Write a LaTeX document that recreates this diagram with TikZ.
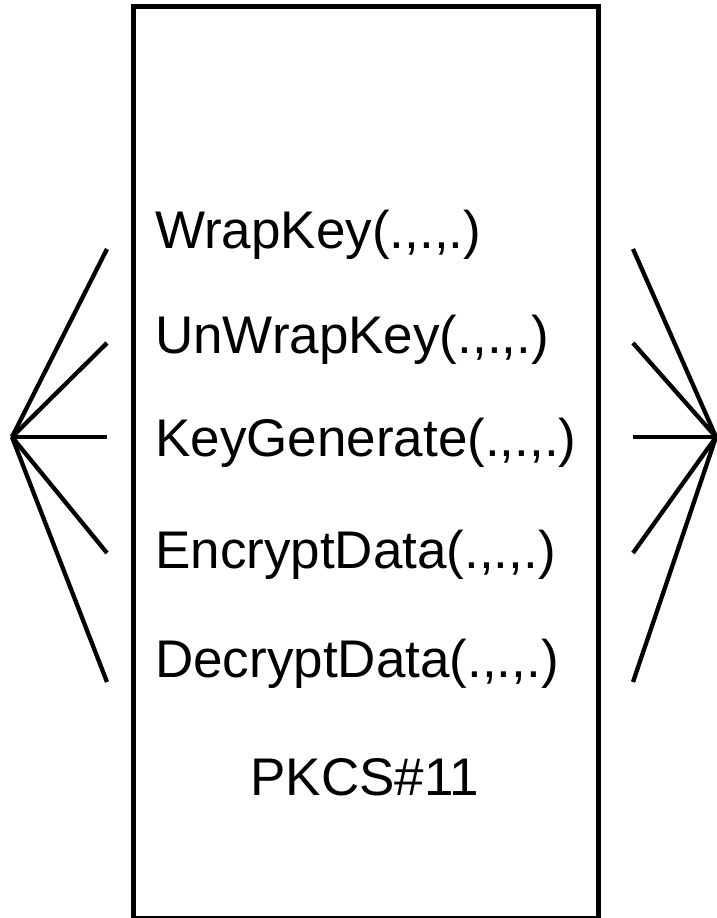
\documentclass[tikz,border=0pt]{standalone}
\usepackage{fontspec}
\setmainfont{Liberation Sans}
\begin{document}
\begin{tikzpicture}[x=1pt,y=-1pt,
  boxframe/.style={draw=black,line width=5pt},
  fanline/.style={draw=black,line width=4.3pt},
  calltext/.style={anchor=base west,inner sep=0pt,font=\fontsize{53}{60}\selectfont},
  titletext/.style={anchor=base,inner sep=0pt,font=\fontsize{53}{60}\selectfont}]
  \useasboundingbox (0,0) rectangle (716,918);

  % the PKCS#11 module
  \draw[boxframe] (133.5,6.5) rectangle (598.5,918.5);

  % exported calls
  \node[calltext] (wrap)    at (155,248) {WrapKey(.,.,.)};
  \node[calltext] (unwrap)  at (155,353) {UnWrapKey(.,.,.)};
  \node[calltext] (keygen)  at (155,456) {KeyGenerate(.,.,.)};
  \node[calltext] (encrypt) at (155,568) {EncryptData(.,.,.)};
  \node[calltext] (decrypt) at (155,677) {DecryptData(.,.,.)};
  \node[titletext] (title)  at (365,795) {PKCS\#11};

  % fan-in on the left
  \coordinate (lhub) at (12,437);
  \coordinate (l1) at (107,249);
  \coordinate (l2) at (107,343);
  \coordinate (l3) at (107,437);
  \coordinate (l4) at (107,553);
  \coordinate (l5) at (107,682);
  \foreach \i in {1,...,5} \draw[fanline] (lhub) -- (l\i);

  % fan-out on the right
  \coordinate (rhub) at (716,437);
  \coordinate (r1) at (633,249);
  \coordinate (r2) at (633,343);
  \coordinate (r3) at (633,437);
  \coordinate (r4) at (633,553);
  \coordinate (r5) at (633,682);
  \foreach \i in {1,...,5} \draw[fanline] (rhub) -- (r\i);
\end{tikzpicture}
\end{document}
